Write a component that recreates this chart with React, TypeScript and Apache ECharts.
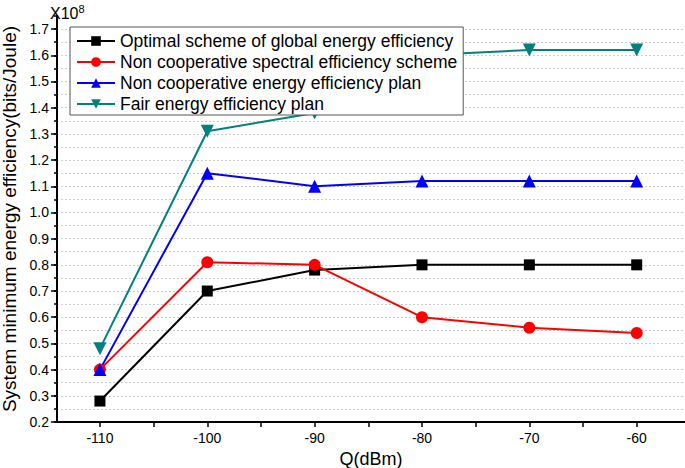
import React, { useEffect, useRef } from "react";
import * as echarts from "echarts";

const xValues = [-110, -100, -90, -80, -70, -60];
const globalOptimal = [0.28, 0.70, 0.78, 0.80, 0.80, 0.80];
const nonCoopSpectral = [0.40, 0.81, 0.80, 0.60, 0.56, 0.54];
const nonCoopEnergy = [0.40, 1.15, 1.10, 1.12, 1.12, 1.12];
const fairEnergy = [0.48, 1.31, 1.38, 1.60, 1.62, 1.62];
const seriesNames = [
  "Optimal scheme of global energy efficiency",
  "Non cooperative spectral efficiency scheme",
  "Non cooperative energy efficiency plan",
  "Fair energy efficiency plan",
];
const xTickLabels = [-110, -100, -90, -80, -70, -60];
const xMinorTicks = [-110, -105, -100, -95, -90, -85, -80, -75, -70, -65, -60];
const yMajorTicks = [0.2, 0.3, 0.4, 0.5, 0.6, 0.7, 0.8, 0.9, 1.0, 1.1, 1.2, 1.3, 1.4, 1.5, 1.6, 1.7];

const FONT = "Liberation Sans, Arial, sans-serif";

export default function App() {
  const ref = useRef<HTMLDivElement>(null);
  useEffect(() => {
    if (!ref.current) return;
    const chart = echarts.init(ref.current, null, { renderer: "svg" });
    const mk = (name: string, data: number[], color: string, symbol: string, size: number) => ({
      name,
      type: "line",
      data: xValues.map((x, i) => [x, data[i]]),
      symbol,
      symbolSize: size,
      lineStyle: { color, width: 2 },
      itemStyle: { color },
      z: 3,
    });
    chart.setOption({
      animation: false,
      textStyle: { fontFamily: FONT },
      grid: { left: 57, right: 0, top: 16, bottom: 46, outerBoundsMode: "none", containLabel: false },
      legend: {
        orient: "vertical",
        left: 70,
        top: 27,
        backgroundColor: "#fff",
        borderColor: "#555",
        borderWidth: 1,
        padding: [5, 6, 2, 6],
        itemWidth: 38,
        itemHeight: 12,
        itemGap: 3,
        textStyle: { fontSize: 17.5, color: "#000", fontFamily: FONT },
        data: seriesNames,
        z: 10,
      },
      xAxis: {
        type: "value",
        min: -114,
        max: -55.5,
        name: "Q(dBm)",
        nameLocation: "middle",
        nameGap: 27,
        nameTextStyle: { fontSize: 18, color: "#000", fontFamily: FONT },
        axisLine: { lineStyle: { color: "#000", width: 2 } },
        axisTick: { customValues: xMinorTicks, length: 5, lineStyle: { color: "#000", width: 1.5 } },
        axisLabel: { customValues: xTickLabels, fontSize: 14, color: "#000", margin: 9, fontFamily: FONT },
        splitLine: { show: false },
      },
      yAxis: [
        {
          type: "value",
          min: 0.2,
          max: 1.75,
          interval: 0.05,
          name: "System minimum energy efficiency(bits/Joule)",
          nameLocation: "middle",
          nameGap: 35,
          nameTextStyle: { fontSize: 19, color: "#000", fontFamily: FONT },
          axisLine: { lineStyle: { color: "#000", width: 2 } },
          axisTick: { length: 3, lineStyle: { color: "#000", width: 1.5 } },
          axisLabel: {
            customValues: yMajorTicks,
            fontSize: 14,
            color: "#000",
            margin: 8,
            fontFamily: FONT,
            formatter: (v: number) => v.toFixed(1),
          },
          splitLine: {
            show: true,
            showMaxLine: false,
            showMinLine: false,
            lineStyle: { color: "#cccccc", type: [2, 2], width: 1 },
          },
        },
        {
          type: "value",
          min: 0.2,
          max: 1.75,
          position: "left",
          axisLine: { show: false },
          axisTick: { customValues: yMajorTicks, length: 6, lineStyle: { color: "#000", width: 1.5 } },
          axisLabel: { show: false },
          splitLine: { show: false },
        },
      ],
      series: [
        mk(seriesNames[0], globalOptimal, "#000000", "rect", 11),
        mk(seriesNames[1], nonCoopSpectral, "#ff0000", "circle", 12),
        mk(seriesNames[2], nonCoopEnergy, "#0000ff", "triangle", 13),
        mk(seriesNames[3], fairEnergy, "#008080", "path://M0,0 L10,0 L5,9 Z", 13),
      ],
      graphic: [
        {
          type: "text",
          left: 50,
          top: 3,
          style: {
            text: "X10{sup|8}",
            fontSize: 16,
            fontFamily: FONT,
            fill: "#000",
            rich: { sup: { fontSize: 11, verticalAlign: "top", padding: [0, 0, 9, 0], fontFamily: FONT } },
          },
        },
      ],
    });
    return () => chart.dispose();
  }, []);
  return <div ref={ref} style={{ width: 685, height: 468, position: "absolute", left: 0, top: 0 }} />;
}
